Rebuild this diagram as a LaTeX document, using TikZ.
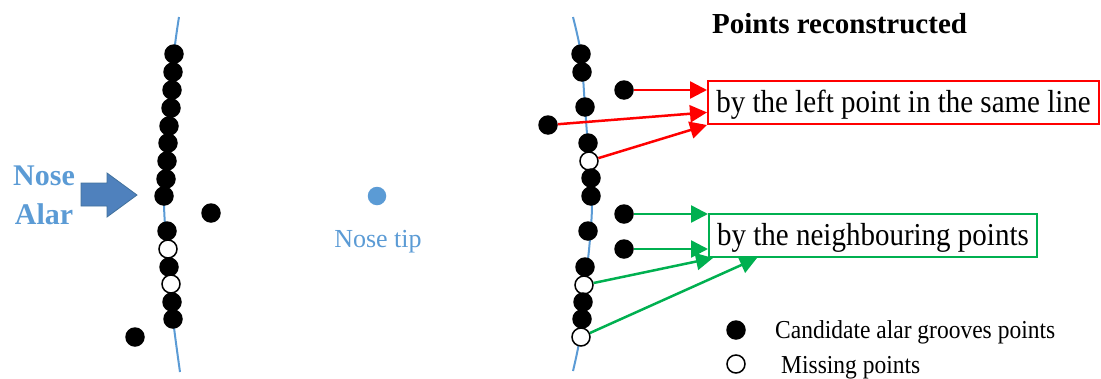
\documentclass[tikz,border=0pt]{standalone}
\usepackage{fontspec}
\setmainfont{Liberation Serif}
\usetikzlibrary{arrows.meta,calc}
\definecolor{lblue}{HTML}{5B9BD5}
\definecolor{ablue}{HTML}{4F81BD}
\definecolor{ablueline}{HTML}{41719C}
\definecolor{ggreen}{HTML}{00B050}
\newcommand{\vstretch}[1]{\scalebox{1}[1.1]{#1}}
\begin{document}
\begin{tikzpicture}[x=1pt,y=-1pt,
  pt/.style={circle,fill=black,inner sep=0pt,minimum size=19.5pt},
  hole/.style={circle,draw=black,fill=white,line width=1.5pt,inner sep=0pt,minimum size=18pt},
  groove/.style={draw=lblue,line width=2pt},
  redarr/.style={draw=red,line width=2.5pt,-{Triangle[length=17pt,width=17pt]}},
  greenarr/.style={draw=ggreen,line width=2.5pt,-{Triangle[length=17pt,width=17pt]}},
  labelbox/.style={line width=2pt,inner sep=0pt,minimum height=43pt,text height=22pt,text depth=3pt,
    font=\fontsize{29}{34}\selectfont},
  legendtext/.style={anchor=base west,inner sep=0pt,font=\fontsize{23.5}{28}\selectfont}
]
\useasboundingbox (0,0) rectangle (1101,378);

% ---------- left panel ----------
\draw[groove] plot[smooth] coordinates {(179,17) (174,54) (169,126) (164,200) (168,260) (173,319) (180,372)};
\node[pt] (l1) at (174,54) {};
\node[pt] (l2) at (173,72) {};
\node[pt] (l3) at (172,90) {};
\node[pt] (l4) at (171,108) {};
\node[pt] (l5) at (169,126) {};
\node[pt] (l6) at (168,143) {};
\node[pt] (l7) at (167,161) {};
\node[pt] (l8) at (166,179) {};
\node[pt] (l9) at (164,196) {};
\node[pt] (l10) at (167,231) {};
\node[hole] (lh1) at (168,249) {};
\node[pt] (l11) at (169,267) {};
\node[hole] (lh2) at (171,284) {};
\node[pt] (l12) at (172,302) {};
\node[pt] (l13) at (173,319) {};
\node[pt] (lo1) at (211,213) {};
\node[pt] (lo2) at (135,337) {};

\fill[ablue,draw=ablueline,line width=0.8pt] (81,183) -- (107,183) -- (107,173) -- (137,195) -- (107,217) -- (107,206) -- (81,206) -- cycle;
\node[anchor=base,inner sep=0pt,text=lblue,font=\fontsize{30}{36}\selectfont\bfseries] (nose) at (44,185) {Nose};
\node[anchor=base,inner sep=0pt,text=lblue,font=\fontsize{30}{36}\selectfont\bfseries] (alar) at (44,224) {Alar};

\node[circle,fill=lblue,inner sep=0pt,minimum size=18.5pt] (tip) at (377,196) {};
\node[anchor=base,inner sep=0pt,text=lblue,font=\fontsize{26}{31}\selectfont] (tiplabel) at (378,247) {Nose tip};

% ---------- right panel ----------
\draw[groove] plot[smooth] coordinates {(573,17) (581,54) (585,107) (589,161) (592,205) (589,250) (584,290) (580,337) (573,371)};
\node[pt] (r1) at (581,54) {};
\node[pt] (r2) at (582,72) {};
\node[pt] (r3) at (624,90) {};
\node[pt] (r4) at (585,107) {};
\node[pt] (r5) at (548,125) {};
\node[pt] (r6) at (588,143) {};
\node[hole] (h1) at (589,161) {};
\node[pt] (r7) at (591,178) {};
\node[pt] (r8) at (591,196) {};
\node[pt] (g1) at (624,214) {};
\node[pt] (r9) at (588,231) {};
\node[pt] (g2) at (624,249) {};
\node[pt] (r10) at (585,267) {};
\node[hole] (h2) at (584,285) {};
\node[pt] (r11) at (583,302) {};
\node[pt] (r12) at (582,319) {};
\node[hole] (h3) at (581,337) {};

\node[anchor=base west,inner sep=0pt,font=\fontsize{29}{34}\selectfont\bfseries] (title) at (712,33) {Points reconstructed};

\node[labelbox,draw=red,minimum width=391pt] (redbox) at (903.5,102.5) {\vstretch{by the left point in the same line}};
\node[labelbox,draw=ggreen,minimum width=328pt] (greenbox) at (873,235.5) {\vstretch{by the neighbouring points}};

\draw[redarr] (r3) -- (r3 -| redbox.west);
\draw[redarr] (r5) -- ($(redbox.north west)!0.72!(redbox.south west)$);
\draw[redarr] (h1) -- (redbox.south west);

\draw[greenarr] (g1) -- (g1 -| greenbox.west);
\draw[greenarr] (g2) -- (g2 -| greenbox.west);
\draw[greenarr] (h2) -- ($(greenbox.south west)+(5,0)$);
\draw[greenarr] (h3) -- ($(greenbox.south west)+(49,0)$);

% ---------- legend ----------
\node[pt] (k1) at (736,330) {};
\node[hole] (k2) at (736,364) {};
\node[legendtext] (k1text) at (775,338) {\vstretch{Candidate alar grooves points}};
\node[legendtext] (k2text) at (781,373) {\vstretch{Missing points}};
\end{tikzpicture}
\end{document}
